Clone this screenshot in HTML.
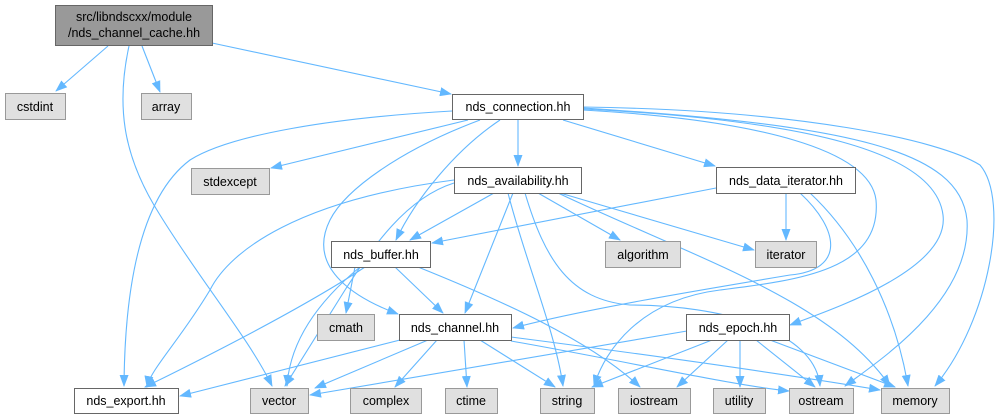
<!DOCTYPE html>
<html><head><meta charset="utf-8"><style>
html,body{margin:0;padding:0;background:#fff;}
svg{display:block;}
text{font-family:"Liberation Sans",Arial,sans-serif;font-size:12.5px;fill:#000;text-anchor:middle;}
.e{fill:none;stroke:#63b8ff;stroke-width:1.1;marker-end:url(#a);}
.g{fill:#e0e0e0;stroke:#999;stroke-width:1;}
.w{fill:#fff;stroke:#666;stroke-width:1;}
</style></head><body>
<svg width="1002" height="420" viewBox="0 0 1002 420" xmlns="http://www.w3.org/2000/svg">
<defs><marker id="a" viewBox="0 0 12 10" refX="11" refY="5" markerWidth="12" markerHeight="10" markerUnits="userSpaceOnUse" orient="auto"><path d="M0,0.5 L12,5 L0,9.5 z" fill="#63b8ff"/></marker></defs>
<path class="e" d="M108,46 L56,91"/>
<path class="e" d="M142,46 L160,92"/>
<path class="e" d="M129,46 C115,110 125,160 160,215 C200,280 250,340 272,386"/>
<path class="e" d="M212,43 L451,94"/>
<path class="e" d="M452,111 C330,118 230,135 190,160 C150,190 125,260 124,386"/>
<path class="e" d="M468,120 L271,168"/>
<path class="e" d="M518,120 L518,166"/>
<path class="e" d="M563,120 L715,166"/>
<path class="e" d="M500,120 C455,150 415,200 396,240"/>
<path class="e" d="M480,120 C400,150 345,190 330,220 C305,270 360,300 398,314"/>
<path class="e" d="M583,110 C760,120 870,150 876,200 C882,270 800,280 720,290 C640,300 605,350 594,386"/>
<path class="e" d="M583,109 C800,120 935,150 943,215 C950,270 830,310 790,325"/>
<path class="e" d="M583,108 C850,125 960,150 967,220 C972,300 880,360 845,386"/>
<path class="e" d="M583,107 C800,110 940,140 980,165 C1010,200 990,320 935,386"/>
<path class="e" d="M454,180 C300,200 230,250 210,290 C180,340 150,370 147,387"/>
<path class="e" d="M454,183 C400,200 365,260 345,290 C320,330 295,370 285,386"/>
<path class="e" d="M494,193 L410,240"/>
<path class="e" d="M716,188 L432,243"/>
<path class="e" d="M538,193 L620,240"/>
<path class="e" d="M560,193 L754,250"/>
<path class="e" d="M513,193 L465,313"/>
<path class="e" d="M508,193 C525,260 555,330 563,386"/>
<path class="e" d="M525,193 C545,260 570,300 630,305 C720,305 815,330 820,386"/>
<path class="e" d="M558,193 C700,260 830,300 890,386"/>
<path class="e" d="M786,193 L786,240"/>
<path class="e" d="M800,193 C840,230 845,270 790,275 C700,290 580,310 513,328"/>
<path class="e" d="M810,193 C860,240 895,310 908,386"/>
<path class="e" d="M365,267 C300,310 200,360 145,387"/>
<path class="e" d="M360,267 C320,300 290,340 287,386"/>
<path class="e" d="M355,267 L346,313"/>
<path class="e" d="M395,267 L443,313"/>
<path class="e" d="M418,267 C500,300 590,340 640,387"/>
<path class="e" d="M404,339 L180,396"/>
<path class="e" d="M428,340 L315,388"/>
<path class="e" d="M437,340 L395,387"/>
<path class="e" d="M464,340 L467,387"/>
<path class="e" d="M480,340 L555,387"/>
<path class="e" d="M511,341 C620,360 730,385 789,391"/>
<path class="e" d="M511,337 C650,355 790,375 880,390"/>
<path class="e" d="M687,331 L310,395"/>
<path class="e" d="M712,340 L592,387"/>
<path class="e" d="M728,340 L677,387"/>
<path class="e" d="M740,340 L740,387"/>
<path class="e" d="M756,340 L815,387"/>
<path class="e" d="M770,340 L895,387"/>
<rect x="55.5" y="5.5" width="157" height="40" fill="#999" stroke="#666"/>
<text x="134" y="21">src/libndscxx/module</text><text x="134" y="37">/nds_channel_cache.hh</text>
<rect class="g" x="5.5" y="93.5" width="60" height="26"/><text x="35" y="111">cstdint</text>
<rect class="g" x="141.5" y="93.5" width="50" height="26"/><text x="166" y="111">array</text>
<rect class="w" x="452.5" y="94.5" width="131" height="25"/><text x="518" y="111">nds_connection.hh</text>
<rect class="g" x="191.5" y="168.5" width="78" height="26"/><text x="230" y="186">stdexcept</text>
<rect class="w" x="454.5" y="167.5" width="127" height="26"/><text x="518" y="185">nds_availability.hh</text>
<rect class="w" x="716.5" y="167.5" width="139" height="26"/><text x="786" y="185">nds_data_iterator.hh</text>
<rect class="g" x="605.5" y="241.5" width="75" height="26"/><text x="643" y="259">algorithm</text>
<rect class="g" x="755.5" y="241.5" width="61" height="26"/><text x="786" y="259">iterator</text>
<rect class="w" x="331.5" y="241.5" width="99" height="26"/><text x="381" y="259">nds_buffer.hh</text>
<rect class="g" x="317.5" y="314.5" width="57" height="26"/><text x="346" y="332">cmath</text>
<rect class="w" x="399.5" y="314.5" width="112" height="26"/><text x="455" y="332">nds_channel.hh</text>
<rect class="w" x="686.5" y="314.5" width="103" height="26"/><text x="738" y="332">nds_epoch.hh</text>
<rect class="w" x="74.5" y="388.5" width="104" height="25"/><text x="126" y="405">nds_export.hh</text>
<rect class="g" x="250.5" y="388.5" width="58" height="25"/><text x="279" y="405">vector</text>
<rect class="g" x="350.5" y="388.5" width="71" height="25"/><text x="386" y="405">complex</text>
<rect class="g" x="445.5" y="388.5" width="52" height="25"/><text x="471" y="405">ctime</text>
<rect class="g" x="540.5" y="388.5" width="54" height="25"/><text x="567" y="405">string</text>
<rect class="g" x="618.5" y="388.5" width="72" height="25"/><text x="654" y="405">iostream</text>
<rect class="g" x="713.5" y="388.5" width="52" height="25"/><text x="739" y="405">utility</text>
<rect class="g" x="789.5" y="388.5" width="64" height="25"/><text x="821" y="405">ostream</text>
<rect class="g" x="881.5" y="388.5" width="68" height="25"/><text x="915" y="405">memory</text>
</svg>
</body></html>
